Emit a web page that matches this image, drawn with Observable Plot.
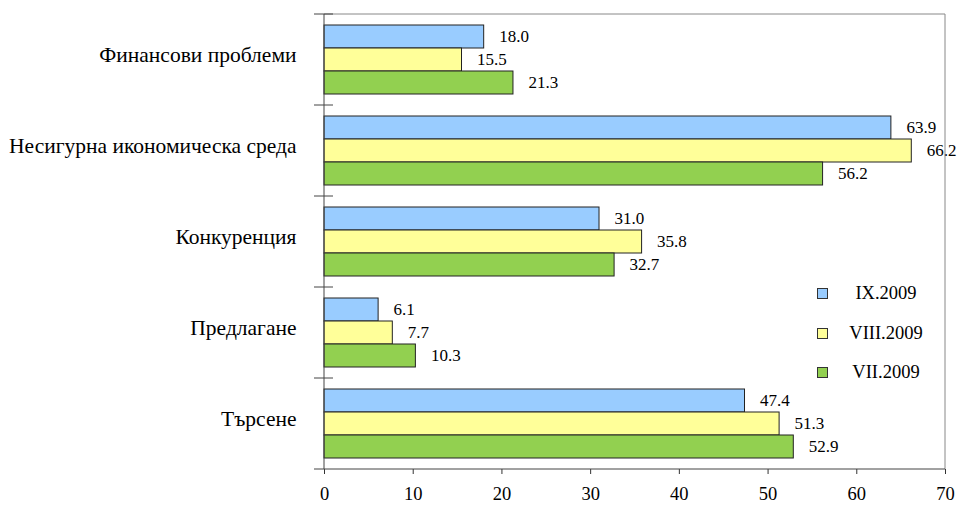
<!DOCTYPE html>
<html>
<head>
<meta charset="utf-8">
<script src="https://cdn.jsdelivr.net/npm/d3@7"></script>
<script src="https://cdn.jsdelivr.net/npm/@observablehq/plot@0.6"></script>
<style>
body { margin: 0; background: #fff; }
#wrap { position: relative; width: 958px; height: 507px; font-family: "Liberation Serif", "Times New Roman", serif; }
#wrap svg, #wrap svg text { font-family: "Liberation Serif", "Times New Roman", serif; }
#legend { position: absolute; left: 817px; top: 281px; font-size: 18.5px; color: #000; }
.li { position: relative; height: 39.5px; width: 120px; }
.sw { position: absolute; left: 0; top: 7px; width: 9px; height: 9px; border: 1px solid #333; }
.lt { position: absolute; left: 19px; width: 100px; top: 0; text-align: center; line-height: 24px; }
</style>
</head>
<body>
<div id="wrap"></div>
<script>
const categories = ["Финансови проблеми", "Несигурна икономическа среда", "Конкуренция", "Предлагане", "Търсене"];
const series = ["IX.2009", "VIII.2009", "VII.2009"];
const colors = ["#99CCFF", "#FFFF99", "#92D050"];
const valuesIX = [18.0, 63.9, 31.0, 6.1, 47.4];
const valuesVIII = [15.5, 66.2, 35.8, 7.7, 51.3];
const valuesVII = [21.3, 56.2, 32.7, 10.3, 52.9];
const xTicks = [0, 10, 20, 30, 40, 50, 60, 70];

const seriesValues = [valuesIX, valuesVIII, valuesVII];
const data = [];
categories.forEach((c, i) => series.forEach((s, j) => data.push({cat: c, ser: s, val: seriesValues[j][i]})));

const plot = Plot.plot({
  width: 958,
  height: 507,
  marginLeft: 324,
  marginRight: 13,
  marginTop: 13,
  marginBottom: 38,
  style: "background:#fff;color:#000;font-family:'Liberation Serif','Times New Roman',serif;",
  x: {domain: [0, 70], label: null},
  y: {domain: series, paddingInner: 0, paddingOuter: 0.4, axis: null},
  fy: {domain: categories, padding: 0, label: null, axis: null},
  color: {domain: series, range: colors},
  marks: [
    Plot.axisX({ticks: xTicks, tickSize: 5, tickPadding: 12, fontSize: 18.5, label: null, tickFormat: d => String(d), stroke: "#333"}),
    Plot.axisFy({anchor: "left", tickSize: 0, tickPadding: 28, fontSize: 21.5, dy: -5, label: null}),
    Plot.barX(data, {fy: "cat", y: "ser", x: "val", fill: "ser", stroke: "#222", strokeWidth: 1}),
    Plot.text(data, {fy: "cat", y: "ser", x: "val", text: d => d.val.toFixed(1), textAnchor: "start", dx: 15, fontSize: 17, fill: "#000"})
  ]
});

const svg = d3.select(plot);
// frame and category boundary ticks using the scales
const xs = plot.scale("x"), fys = plot.scale("fy");
const x0 = xs.apply(0), x1 = xs.apply(70);
const tops = categories.map(c => fys.apply(c));
const bw = fys.bandwidth;
const yTop = tops[0], yBot = tops[tops.length - 1] + bw;
const g = svg.append("g").attr("fill", "none");
g.append("line").attr("x1", x0).attr("x2", x1).attr("y1", yTop).attr("y2", yTop).attr("stroke", "#888");
g.append("line").attr("x1", x1).attr("x2", x1).attr("y1", yTop).attr("y2", yBot).attr("stroke", "#888");
g.append("line").attr("x1", x0).attr("x2", x0).attr("y1", yTop).attr("y2", yBot).attr("stroke", "#444");
g.append("line").attr("x1", x0 - 10).attr("x2", x1).attr("y1", yBot).attr("y2", yBot).attr("stroke", "#444");
tops.forEach(t => g.append("line").attr("x1", x0 - 10).attr("x2", x0 + 9).attr("y1", t).attr("y2", t).attr("stroke", "#444"));

const wrap = document.getElementById("wrap");
wrap.appendChild(plot);

const legend = document.createElement("div");
legend.id = "legend";
series.forEach((s, j) => {
  const li = document.createElement("div");
  li.className = "li";
  li.innerHTML = `<div class="sw" style="background:${colors[j]}"></div><div class="lt">${s}</div>`;
  legend.appendChild(li);
});
wrap.appendChild(legend);
</script>
</body>
</html>
